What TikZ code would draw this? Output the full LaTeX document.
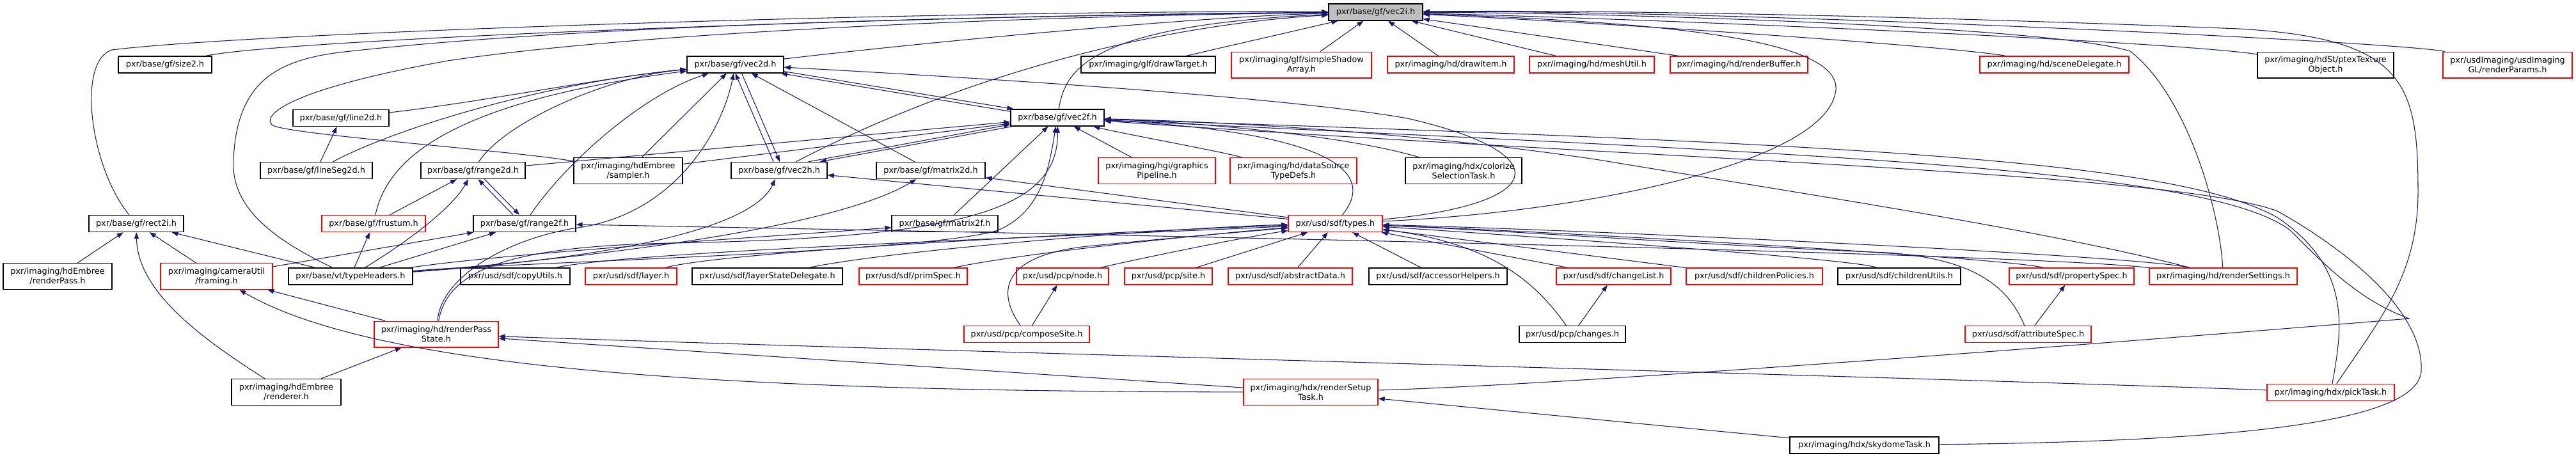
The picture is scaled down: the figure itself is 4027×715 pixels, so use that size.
\documentclass[tikz,border=0pt]{standalone}
\usepackage{fontspec}
\setmainfont{DejaVu Sans}
\usetikzlibrary{arrows.meta,calc}
\definecolor{edgeblue}{HTML}{191970}
\definecolor{rootgray}{HTML}{BFBFBF}
\tikzset{
  hdr/.style={draw=black, fill=white, line width=1pt, inner sep=0pt, minimum height=19.5pt,
    align=center, font=\fontsize{9.6}{11.25}\selectfont},
  trunc/.style={hdr, draw=red},
  tall/.style={minimum height=30.5pt},
  wd/.style={minimum width=#1*0.75pt},
  incl/.style={draw=edgeblue, thick, ->, >={Triangle[length=7.5pt,width=5.5pt]}},
}
\begin{document}
\begin{tikzpicture}[x=0.75pt,y=-0.75pt]
\useasboundingbox (0,0) rectangle (4027,715);
\node[hdr, fill=rootgray, wd=147] (vec2i) at (2150.5,19) {pxr/base/gf/vec2i.h};
\node[hdr, wd=146] (size2) at (258,101) {pxr/base/gf/size2.h};
\node[hdr, wd=151] (vec2d) at (1149.5,101) {pxr/base/gf/vec2d.h};
\node[hdr, wd=210] (drawTarget) at (1795,101) {pxr/imaging/glf/drawTarget.h};
\node[trunc, tall, wd=219] (shadowArray) at (2034.5,101.5) {pxr/imaging/glf/simpleShadow\\Array.h};
\node[trunc, wd=198] (drawItem) at (2268,101) {pxr/imaging/hd/drawItem.h};
\node[trunc, wd=195] (meshUtil) at (2488.5,101) {pxr/imaging/hd/meshUtil.h};
\node[trunc, wd=215] (renderBuffer) at (2718.5,101) {pxr/imaging/hd/renderBuffer.h};
\node[trunc, wd=233] (sceneDelegate) at (3211.5,101) {pxr/imaging/hd/sceneDelegate.h};
\node[hdr, tall, wd=213] (ptexTexture) at (3635.5,101.5) {pxr/imaging/hdSt/ptexTexture\\Object.h};
\node[trunc, tall, wd=202] (renderParams) at (3920,101.5) {pxr/usdImaging/usdImaging\\GL/renderParams.h};
\node[hdr, wd=150] (line2d) at (533,184.5) {pxr/base/gf/line2d.h};
\node[hdr, wd=146] (vec2f) at (1653,184) {pxr/base/gf/vec2f.h};
\node[hdr, wd=175] (lineSeg2d) at (494.5,266.5) {pxr/base/gf/lineSeg2d.h};
\node[hdr, wd=163] (range2d) at (739.5,266.5) {pxr/base/gf/range2d.h};
\node[hdr, tall, wd=170] (sampler) at (982,267) {pxr/imaging/hdEmbree\\/sampler.h};
\node[hdr, wd=150] (vec2h) at (1218,266.5) {pxr/base/gf/vec2h.h};
\node[hdr, wd=170] (matrix2d) at (1455,266.5) {pxr/base/gf/matrix2d.h};
\node[trunc, tall, wd=183] (pipeline) at (1808.5,267) {pxr/imaging/hgi/graphics\\Pipeline.h};
\node[trunc, tall, wd=198] (dataSource) at (2022,267) {pxr/imaging/hd/dataSource\\TypeDefs.h};
\node[hdr, tall, wd=182] (colorize) at (2288,267) {pxr/imaging/hdx/colorize\\SelectionTask.h};
\node[hdr, wd=148] (rect2i) at (213,349.5) {pxr/base/gf/rect2i.h};
\node[trunc, wd=162] (frustum) at (584,349.5) {pxr/base/gf/frustum.h};
\node[hdr, wd=160] (range2f) at (820,349.5) {pxr/base/gf/range2f.h};
\node[hdr, wd=166] (matrix2f) at (1477,349.5) {pxr/base/gf/matrix2f.h};
\node[trunc, wd=147] (types) at (2087.5,349.5) {pxr/usd/sdf/types.h};
\node[hdr, tall, wd=170] (embreePass) at (90,432) {pxr/imaging/hdEmbree\\/renderPass.h};
\node[trunc, tall, wd=175] (framing) at (338.5,432) {pxr/imaging/cameraUtil\\/framing.h};
\node[hdr, wd=194] (typeHeaders) at (548,432) {pxr/base/vt/typeHeaders.h};
\node[hdr, wd=171] (copyUtils) at (805.5,432) {pxr/usd/sdf/copyUtils.h};
\node[trunc, wd=143] (layer) at (986.5,432) {pxr/usd/sdf/layer.h};
\node[hdr, wd=235] (layerState) at (1199.5,432) {pxr/usd/sdf/layerStateDelegate.h};
\node[trunc, wd=169] (primSpec) at (1427.5,432) {pxr/usd/sdf/primSpec.h};
\node[trunc, wd=144] (pcpNode) at (1661,432) {pxr/usd/pcp/node.h};
\node[trunc, wd=137] (pcpSite) at (1826.5,432) {pxr/usd/pcp/site.h};
\node[trunc, wd=194] (abstractData) at (2017,432) {pxr/usd/sdf/abstractData.h};
\node[hdr, wd=216] (accessor) at (2248,432) {pxr/usd/sdf/accessorHelpers.h};
\node[trunc, wd=179] (changeList) at (2522.5,432) {pxr/usd/sdf/changeList.h};
\node[trunc, wd=213] (childPolicies) at (2742.5,432) {pxr/usd/sdf/childrenPolicies.h};
\node[hdr, wd=192] (childUtils) at (2969,432) {pxr/usd/sdf/childrenUtils.h};
\node[trunc, wd=195] (propertySpec) at (3238.5,432) {pxr/usd/sdf/propertySpec.h};
\node[trunc, wd=231] (renderSettings) at (3475.5,432) {pxr/imaging/hd/renderSettings.h};
\node[trunc, tall, wd=194] (passState) at (682,522.5) {pxr/imaging/hd/renderPass\\State.h};
\node[trunc, wd=196] (composeSite) at (1605,522.5) {pxr/usd/pcp/composeSite.h};
\node[hdr, wd=166] (changes) at (2458,522.5) {pxr/usd/pcp/changes.h};
\node[trunc, wd=197] (attributeSpec) at (3170.5,522.5) {pxr/usd/sdf/attributeSpec.h};
\node[hdr, tall, wd=171] (renderer) at (447.5,613) {pxr/imaging/hdEmbree\\/renderer.h};
\node[trunc, tall, wd=210] (setupTask) at (2049,613) {pxr/imaging/hdx/renderSetup\\Task.h};
\node[trunc, wd=199] (pickTask) at (3643.5,613.5) {pxr/imaging/hdx/pickTask.h};
\node[hdr, wd=233] (skydome) at (2914.5,696) {pxr/imaging/hdx/skydomeTask.h};

\draw[incl] (size2)..controls (450,60) and (1500,22)..(vec2i);
\draw[incl] (rect2i)..controls (140,260) and (120,95)..(175,78)..controls (400,50) and (1500,15)..(vec2i);
\draw[incl] (typeHeaders)..controls (440,380) and (360,330)..(365,250)..controls (370,130) and (430,95)..(530,82)..controls (900,40) and (1500,25)..(vec2i);
\draw[incl] (sampler)..controls (800,235) and (440,210)..(425,195)..controls (410,180) and (450,140)..(700,95)..controls (1000,50) and (1600,25)..(vec2i);
\draw[incl] (vec2d)..controls (1500,60) and (1900,25)..(vec2i);
\draw[incl] (vec2h)..controls (1500,120) and (1800,40)..(vec2i);
\draw[incl] (vec2f)..controls (1665,110) and (1700,40)..(vec2i);
\draw[incl] (drawTarget) -- (vec2i);
\draw[incl] (shadowArray) -- (vec2i);
\draw[incl] (drawItem) -- (vec2i);
\draw[incl] (meshUtil) -- (vec2i);
\draw[incl] (renderBuffer) -- (vec2i);
\draw[incl] (sceneDelegate)..controls (3050,72) and (2500,35)..(vec2i);
\draw[incl] (ptexTexture)..controls (3400,65) and (2600,30)..(vec2i);
\draw[incl] (renderParams)..controls (3750,65) and (2700,15)..(vec2i);
\draw[incl] (types)..controls (2500,330) and (2860,250)..(2870,140)..controls (2875,60) and (2600,35)..(vec2i);
\draw[incl] (renderSettings)..controls (3470,330) and (3420,150)..(3330,80)..controls (3200,40) and (2500,20)..(vec2i);
\draw[incl] (pickTask)..controls (3720,500) and (3780,430)..(3780,300)..controls (3780,130) and (3760,60)..(3500,45)..controls (3000,25) and (2500,15)..(vec2i);

\draw[incl] (line2d)..controls (750,160) and (950,120)..(vec2d);
\draw[incl] (lineSeg2d)..controls (620,200) and (850,130)..(vec2d);
\draw[incl] (lineSeg2d) -- (line2d);
\draw[incl] (range2d)..controls (790,190) and (950,120)..(vec2d);
\draw[incl] (frustum)..controls (605,250) and (700,160)..(vec2d);
\draw[incl] (range2f)..controls (880,260) and (1000,150)..(vec2d);
\draw[incl] (sampler) -- (vec2d);
\draw[incl] (passState)..controls (690,430) and (800,370)..(910,355)..controls (1060,330) and (1130,200)..(vec2d);
\draw[incl] ($(vec2h.north)+(-9,0)$) -- ($(vec2d.south)+(0,0)$);
\draw[incl] ($(vec2d.south)+(10,0)$) -- ($(vec2h.north)+(1,0)$);
\draw[incl] (matrix2d) -- (vec2d);
\draw[incl] ($(vec2d.south east)+(0,-3)$) -- ($(vec2f.north west)+(5,0)$);
\draw[incl] ($(vec2f.north west)+(0,4)$) -- ($(vec2d.south east)+(-5,0)$);
\draw[incl] (types)..controls (2420,320) and (2440,240)..(2200,185)..controls (2000,150) and (1500,120)..(vec2d);

\draw[incl] (frustum) -- (range2d);
\draw[incl] (typeHeaders)..controls (650,370) and (710,320)..(range2d);
\draw[incl] ($(range2f.north)+(-18,0)$) -- ($(range2d.south)+(8,0)$);
\draw[incl] ($(range2d.south)+(18,0)$) -- ($(range2f.north)+(-8,0)$);

\draw[incl] (range2d) -- (vec2f);
\draw[incl] (sampler) -- (vec2f);
\draw[incl] ($(vec2h.north east)+(-30,0)$) -- ($(vec2f.south west)+(0,-3)$);
\draw[incl] ($(vec2f.south west)+(3,0)$) -- ($(vec2h.north east)+(-12,0)$);
\draw[incl] (matrix2f) -- (vec2f);
\draw[incl] (typeHeaders)..controls (800,410) and (1450,395)..(1560,360)..controls (1630,330) and (1640,260)..(vec2f);
\draw[incl] (passState)..controls (700,420) and (800,385)..(1050,380)..controls (1500,372) and (1655,330)..(vec2f);
\draw[incl] (pipeline) -- (vec2f);
\draw[incl] (dataSource)..controls (1900,235) and (1760,210)..(vec2f);
\draw[incl] (colorize)..controls (2100,210) and (1850,190)..(vec2f);
\draw[incl] (types)..controls (2160,260) and (2050,205)..(vec2f);
\draw[incl] (renderSettings)..controls (3200,360) and (2800,300)..(2500,250)..controls (2200,205) and (1900,190)..(vec2f);
\draw[incl] (pickTask)..controls (3660,520) and (3680,420)..(3560,340)..controls (3400,250) and (2900,225)..(vec2f);
\draw[incl] (setupTask)..controls (2500,600) and (3500,520)..(3766,498)..controls (3690,470) and (3640,420)..(3580,360)..controls (3450,260) and (2800,240)..(vec2f);
\draw[incl] (skydome)..controls (3500,690) and (3780,660)..(3785,580)..controls (3790,480) and (3650,380)..(3560,330)..controls (3400,270) and (2600,250)..(vec2f);

\draw[incl] (typeHeaders)..controls (1000,400) and (1180,350)..(vec2h);
\draw[incl] (types) -- (vec2h);
\draw[incl] (typeHeaders)..controls (900,405) and (1300,360)..(matrix2d);
\draw[incl] (types) -- (matrix2d);
\draw[incl] (typeHeaders)..controls (800,395) and (1200,370)..(matrix2f);
\draw[incl] (typeHeaders) -- (range2f);
\draw[incl] (framing) -- (range2f);
\draw[incl] (renderSettings)..controls (3200,400) and (2200,375)..(range2f);
\draw[incl] (typeHeaders) -- (frustum);

\draw[incl] (typeHeaders) -- (rect2i);
\draw[incl] (embreePass) -- (rect2i);
\draw[incl] (framing) -- (rect2i);
\draw[incl] (renderer)..controls (300,520) and (215,450)..(rect2i);
\draw[incl] (passState) -- (framing);
\draw[incl] (setupTask)..controls (1200,612) and (600,585)..(framing);
\draw[incl] (renderer) -- (passState);
\draw[incl] (setupTask) -- (passState);
\draw[incl] (pickTask)..controls (3000,590) and (1500,550)..(passState);
\draw[incl] (skydome) -- (setupTask);

\draw[incl] (copyUtils)..controls (1000,390) and (1800,365)..(types);
\draw[incl] (layer)..controls (1150,390) and (1800,360)..(types);
\draw[incl] (layerState)..controls (1400,390) and (1850,355)..(types);
\draw[incl] (primSpec)..controls (1600,395) and (1900,365)..(types);
\draw[incl] (pcpNode)..controls (1800,400) and (1950,370)..(types);
\draw[incl] (pcpSite) -- (types);
\draw[incl] (abstractData) -- (types);
\draw[incl] (accessor) -- (types);
\draw[incl] (changeList) -- (types);
\draw[incl] (childPolicies) -- (types);
\draw[incl] (childUtils)..controls (2900,405) and (2400,370)..(types);
\draw[incl] (propertySpec)..controls (3150,405) and (2500,365)..(types);
\draw[incl] (renderSettings)..controls (3350,400) and (2500,360)..(types);
\draw[incl] (attributeSpec)..controls (3140,450) and (3090,405)..(2950,395)..controls (2700,385) and (2350,360)..(types);
\draw[incl] (attributeSpec) -- (propertySpec);
\draw[incl] (changes)..controls (2400,440) and (2330,380)..(types);
\draw[incl] (changes) -- (changeList);
\draw[incl] (composeSite)..controls (1560,460) and (1560,400)..(1700,385)..controls (1850,370) and (1950,362)..(types);
\draw[incl] (composeSite) -- (pcpNode);
\end{tikzpicture}
\end{document}
